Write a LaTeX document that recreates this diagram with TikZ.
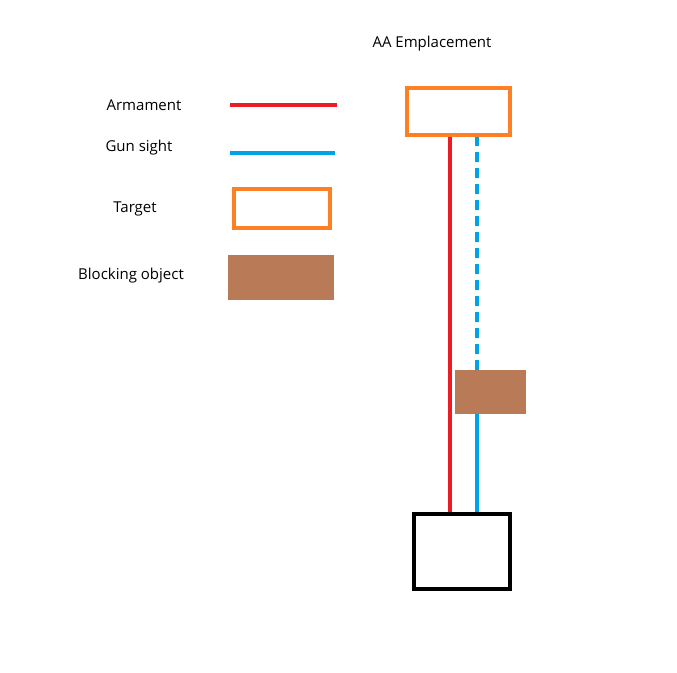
\documentclass[tikz,border=0pt]{standalone}
\usepackage{fontspec}
\setmainfont{Open Sans}
\begin{document}
\begin{tikzpicture}[x=1pt,y=-1pt,
  lbl/.style={font=\fontsize{15}{18}\selectfont,inner sep=0pt},
  arm/.style={draw={rgb,255:red,237;green,28;blue,36},line width=4pt},
  sight/.style={draw={rgb,255:red,0;green,162;blue,232},line width=4pt},
  tgt/.style={draw={rgb,255:red,255;green,127;blue,39},line width=4pt},
  blk/.style={fill={rgb,255:red,185;green,122;blue,87}},
  emp/.style={draw=black,line width=4pt}]
\useasboundingbox (0,0) rectangle (677,672);
\node[lbl] (title) at (432,44) {AA Emplacement};
\node[lbl] (la) at (144,105) {Armament};
\node[lbl] (lg) at (139,148) {Gun sight};
\node[lbl] (lt) at (135,209) {Target};
\node[lbl] (lb) at (131,276) {Blocking object};
\coordinate (a1) at (230,105); \coordinate (a2) at (337,105);
\draw[arm] (a1) -- (a2);
\coordinate (g1) at (230,153); \coordinate (g2) at (335,153);
\draw[sight] (g1) -- (g2);
\draw[tgt] (234,189) rectangle (330,228);
\fill[blk] (228,255) rectangle (334,300);
% main
\coordinate (rtop) at (450,136); \coordinate (rbot) at (450,513);
\draw[arm] (rtop) -- (rbot);
\coordinate (btop) at (477,136); \coordinate (bmid) at (477,370);
\coordinate (bmid2) at (477,414); \coordinate (bbot) at (477,513);
\draw[sight,dash pattern=on 10pt off 6pt] (btop) -- (bmid);
\draw[sight] (bmid2) -- (bbot);
\draw[tgt] (407,88) rectangle (510,135);
\fill[blk] (455,370) rectangle (526,414);
\draw[emp] (414,514) rectangle (510,589);
\end{tikzpicture}
\end{document}
